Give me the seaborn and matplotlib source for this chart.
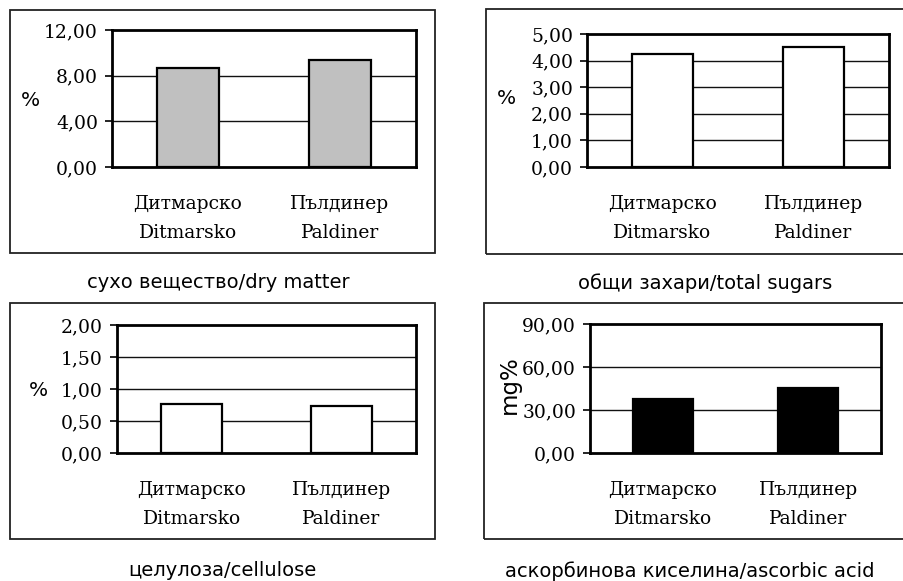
import matplotlib
matplotlib.use("Agg")
import matplotlib.pyplot as plt
from matplotlib.patches import Rectangle
import seaborn as sns
import pandas as pd

categories = ["Дитмарско\nDitmarsko", "Пълдинер\nPaldiner"]
dry_matter = [8.70, 9.35]
total_sugars = [4.24, 4.51]
cellulose = [0.77, 0.73]
ascorbic_acid = [37.7, 45.4]

titles = ["сухо вещество/dry matter", "общи захари/total sugars",
          "целулоза/cellulose", "аскорбинова киселина/ascorbic acid"]
units = ["%", "%", "%", "mg%"]
yticks_list = [[0, 4, 8, 12], [0, 1, 2, 3, 4, 5], [0, 0.5, 1.0, 1.5, 2.0], [0, 30, 60, 90]]
colors = ["#c0c0c0", "white", "white", "black"]

sns.set_style("white")
plt.rcParams["font.family"] = ["DejaVu Sans"]
plt.rcParams["text.color"] = "black"
plt.rcParams["xtick.color"] = "black"
plt.rcParams["ytick.color"] = "black"
plt.rcParams["axes.labelcolor"] = "black"

W, H = 904, 581
fig = plt.figure(figsize=(W / 100, H / 100), dpi=100)

def fr(x0, y0, x1, y1):
    return [x0 / W, 1 - y1 / H, (x1 - x0) / W, (y1 - y0) / H]

# plot areas (pixel coords)
plot_boxes = [(112, 30, 416, 167), (587, 34, 889, 167), (117, 325, 416, 453), (590, 324, 881, 453)]
outer_boxes = [(10, 10, 435, 253), (486, 9, 915, 254), (10, 303, 435, 539), (484, 303, 915, 539)]
title_pos = [(218, 283), (705, 283), (222, 571), (690, 571)]
unit_pos = [(30, 100), (506, 98), (38, 390), (509, 385)]

datasets = [dry_matter, total_sugars, cellulose, ascorbic_acid]

for i in range(4):
    x0, y0, x1, y1 = outer_boxes[i]
    fig.patches.append(Rectangle((x0 / W, 1 - y1 / H), (x1 - x0) / W, (y1 - y0) / H,
                                 transform=fig.transFigure, fill=False,
                                 edgecolor="#222222", linewidth=1.3, zorder=0))
    ax = fig.add_axes(fr(*plot_boxes[i]))
    df = pd.DataFrame({"cat": categories, "val": datasets[i]})
    sns.barplot(data=df, x="cat", y="val", color=colors[i], width=0.41,
                edgecolor="black", linewidth=1.6, saturation=1, ax=ax, zorder=3)
    ax.set_xlim(-0.5, 1.5)
    yt = yticks_list[i]
    ax.set_ylim(yt[0], yt[-1])
    ax.set_yticks(yt)
    ax.set_yticklabels([f"{v:.2f}".replace(".", ",") for v in yt],
                       family="DejaVu Serif", fontsize=13.5, color="black")
    for v in yt[1:-1]:
        ax.axhline(v, color="#111111", linewidth=1.0, zorder=1)
    ax.set_xticks([-0.5, 0.5, 1.5])
    ax.set_xticklabels(["", "", ""])
    ax.set_xticks([0, 1], minor=True)
    ax.set_xticklabels(categories, minor=True, family="DejaVu Serif",
                       fontsize=13.5, linespacing=1.8, color="black")
    ax.tick_params(axis="x", which="minor", length=0, pad=20)
    ax.tick_params(axis="x", which="major", direction="out", length=5, width=1.2, color="black")
    ax.tick_params(axis="y", direction="out", length=5, width=1.2, color="black", pad=5, left=True)
    ax.set_xlabel("")
    ax.set_ylabel("")
    for s in ax.spines.values():
        s.set_visible(True)
        s.set_color("black")
        s.set_linewidth(2.0)
    ax.set_facecolor("white")
    ux, uy = unit_pos[i]
    if units[i] == "mg%":
        fig.text(ux / W, 1 - uy / H, units[i], rotation=90, fontsize=16.5,
                 ha="center", va="center", color="black")
    else:
        fig.text(ux / W, 1 - uy / H, units[i], fontsize=14.5, ha="center", va="center",
                 color="black")
    tx, ty = title_pos[i]
    fig.text(tx / W, 1 - ty / H, titles[i], fontsize=14, ha="center", va="center",
             color="black")

fig.savefig("out.png", dpi=100, facecolor="white")
